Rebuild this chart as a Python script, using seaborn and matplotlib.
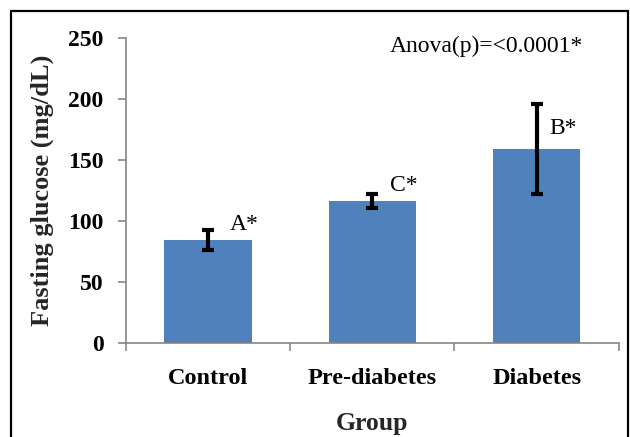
import matplotlib
matplotlib.use("Agg")
import matplotlib.pyplot as plt
import seaborn as sns
import pandas as pd
from matplotlib.patches import Rectangle

groups = ["Control", "Pre-diabetes", "Diabetes"]
means = [84.5, 116.4, 159.0]
errs = [8.0, 5.6, 37.0]
letters = ["A*", "C*", "B*"]
letter_y = [97, 129, 176]
yticks = [0, 50, 100, 150, 200, 250]
anova_text = "Anova(p)=<0.0001*"

sns.set_theme(style="white")
plt.rcParams["font.family"] = ["Liberation Serif", "DejaVu Serif"]

df = pd.DataFrame({"Group": groups, "Glucose": means})

fig = plt.figure(figsize=(6.3, 4.37), dpi=100)
ax = fig.add_axes([0.1997, 0.2144, 0.7825, 0.6993])

sns.barplot(data=df, x="Group", y="Glucose", ax=ax, color="#4F81BD",
            saturation=1, width=0.53, errorbar=None, edgecolor="none")
xs = list(range(len(groups)))
ax.errorbar(xs, means, yerr=errs, fmt="none", ecolor="black",
            elinewidth=3.0, capsize=4.5, capthick=3.0)

offs = [0.13, 0.11, 0.08]
for x, t, y, o in zip(xs, letters, letter_y, offs):
    ax.text(x + o, y, t, fontsize=17, ha="left", va="center", color="black")

ax.text(2.285, 243, anova_text, fontsize=17, ha="right", va="center", color="black")

ax.set_ylim(0, 250)
ax.set_xlim(-0.5, 2.5)
ax.set_yticks(yticks)
ax.set_yticklabels([str(v) for v in yticks], fontsize=17, fontweight="bold")
ax.set_xticks(xs)
ax.set_xticklabels(groups, fontsize=17.5, fontweight="bold")
ax.set_xticks([-0.5, 0.5, 1.5, 2.5], minor=True)

for s in ["top", "right"]:
    ax.spines[s].set_visible(False)
for s in ["left", "bottom"]:
    ax.spines[s].set_color("#868686")
    ax.spines[s].set_linewidth(1.2)

ax.tick_params(axis="y", which="major", left=True, length=6, width=1.2,
               color="#868686", pad=10, labelcolor="black")
ax.tick_params(axis="x", which="major", bottom=False, pad=12, labelcolor="black")
ax.tick_params(axis="x", which="minor", bottom=True, length=6, width=1.2,
               color="#868686")

ax.set_ylabel("Fasting glucose (mg/dL)", fontsize=19, fontweight="bold", labelpad=10)
ax.set_xlabel("Group", fontsize=18.5, fontweight="bold", labelpad=16)

fig.patches.append(Rectangle((11/630, -0.05), (628-11)/630, 1 - 11/437 + 0.05,
                             transform=fig.transFigure, fill=False,
                             edgecolor="black", linewidth=1.6))

fig.savefig("out.png", dpi=100)
